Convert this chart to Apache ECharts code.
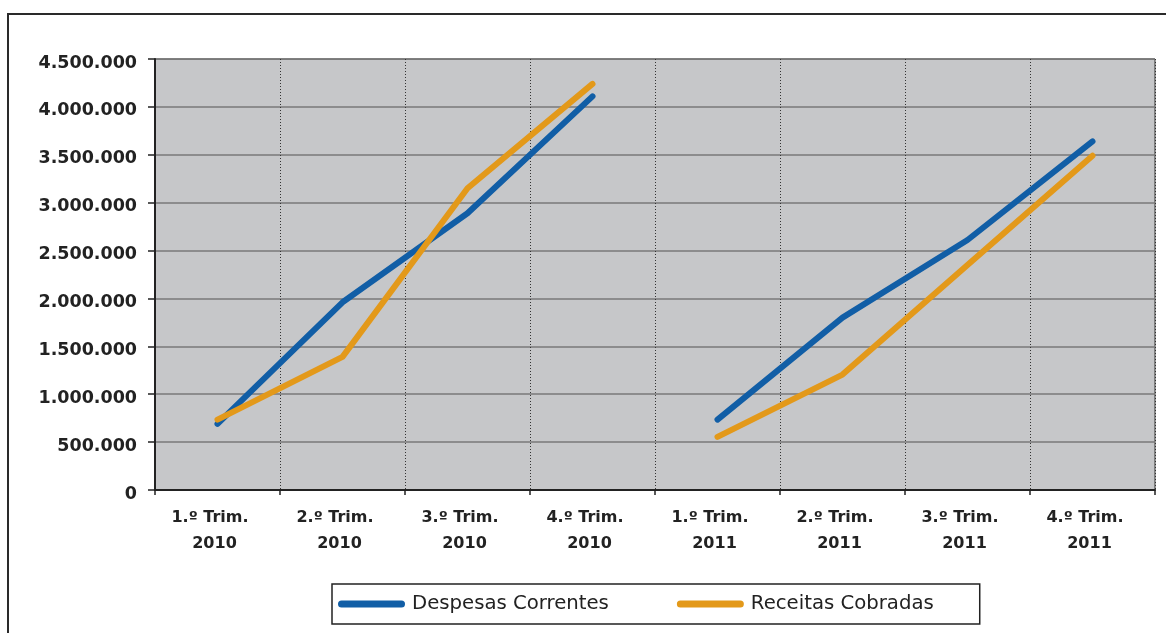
<!DOCTYPE html>
<html>
<head>
<meta charset="utf-8">
<script src="https://cdn.jsdelivr.net/npm/echarts@6/dist/echarts.min.js"></script>
<style>
  html, body { margin: 0; padding: 0; background: #ffffff; }
  #chart { width: 1166px; height: 633px; }
</style>
</head>
<body>
<div id="chart"></div>
<script>
// Quarterly current expenditure vs. collected revenue, 2010-2011
const categories = [
  '1.º Trim.\n2010', '2.º Trim.\n2010', '3.º Trim.\n2010', '4.º Trim.\n2010',
  '1.º Trim.\n2011', '2.º Trim.\n2011', '3.º Trim.\n2011', '4.º Trim.\n2011'
];
const despesasCorrentes = [690000, 1960000, 2890000, 4110000, 735000, 1800000, 2610000, 3640000];
const receitasCobradas  = [735000, 1390000, 3150000, 4240000, 555000, 1205000, 2350000, 3490000];
const yTicks = { min: 0, max: 4500000, interval: 500000 };

const BLUE = '#115ea6';
const ORANGE = '#e3991a';
const FONT = 'DejaVu Sans';

// each year is drawn as its own segment (no link between 4.º Trim. 2010 and 1.º Trim. 2011)
function yearPart(values, first) {
  return values.map((v, i) => (first ? i < 4 : i >= 4) ? v : null);
}

function lineSeries(name, values, color, first, z) {
  return {
    name: name,
    type: 'line',
    data: yearPart(values, first),
    showSymbol: false,
    symbol: 'none',
    connectNulls: false,
    z: z,
    itemStyle: { color: color },
    lineStyle: { color: color, width: 6, cap: 'round', join: 'round' }
  };
}

function fmtThousands(v) {
  return String(v).replace(/\B(?=(\d{3})+(?!\d))/g, '.');
}

function fmtCategory(v) {
  const parts = v.split('\n');
  return '{q|' + parts[0] + '}\n{y|' + parts[1] + '}';
}

const legendIcon = 'path://M3.5,0 H63.5 A3.5,3.5 0 0 1 63.5,7 H3.5 A3.5,3.5 0 0 1 3.5,0 Z';

const catLabelStyle = { fontFamily: FONT, fontSize: 16, fontWeight: 'bold', color: '#222222', lineHeight: 26 };

const chart = echarts.init(document.getElementById('chart'), null, { renderer: 'canvas' });
chart.setOption({
  animation: false,
  backgroundColor: '#ffffff',
  textStyle: { fontFamily: FONT },
  graphic: [{
    type: 'rect',
    shape: { x: 8, y: 14, width: 1200, height: 700 },
    style: { fill: 'none', stroke: '#2a2a2a', lineWidth: 2 },
    silent: true,
    z: 0
  }],
  grid: {
    left: 155, right: 11, top: 59, bottom: 143,
    show: true,
    backgroundColor: '#c6c7c9',
    borderColor: '#333333',
    borderWidth: 1
  },
  legend: {
    left: 332, top: 584,
    orient: 'horizontal',
    padding: [9, 46, 9, 6],
    itemGap: 68,
    itemWidth: 67,
    itemHeight: 7,
    icon: legendIcon,
    borderColor: '#222222',
    borderWidth: 1.5,
    backgroundColor: '#ffffff',
    data: [
      { name: 'Despesas Correntes', itemStyle: { color: BLUE } },
      { name: 'Receitas Cobradas', itemStyle: { color: ORANGE } }
    ],
    textStyle: {
      fontFamily: FONT, fontSize: 19.7, color: '#222222',
      lineHeight: 22, padding: [0, 0, 0, 2]
    }
  },
  xAxis: {
    type: 'category',
    data: categories,
    boundaryGap: true,
    axisLine: { show: true, lineStyle: { color: '#222222', width: 2 } },
    axisTick: { show: true, length: 5, inside: false, lineStyle: { color: '#222222', width: 1.5 } },
    axisLabel: {
      margin: 15, interval: 0,
      formatter: fmtCategory,
      rich: {
        q: Object.assign({ padding: [0, 15, 0, 0] }, catLabelStyle),
        y: Object.assign({ padding: [0, 6, 0, 0] }, catLabelStyle)
      }
    },
    splitLine: { show: true, lineStyle: { color: '#333333', width: 1, type: [1, 2] } }
  },
  yAxis: {
    type: 'value',
    min: yTicks.min, max: yTicks.max, interval: yTicks.interval,
    axisLine: { show: true, lineStyle: { color: '#222222', width: 2 } },
    axisTick: { show: true, length: 7, inside: false, lineStyle: { color: '#222222', width: 1.5 } },
    axisLabel: {
      fontFamily: FONT, fontSize: 17.5, fontWeight: 'bold', color: '#222222',
      margin: 18, lineHeight: 8, padding: [0, 0, 0, 0],
      verticalAlign: 'top', formatter: fmtThousands
    },
    splitLine: { show: true, lineStyle: { color: '#787878', width: 1.5 } }
  },
  series: [
    lineSeries('Despesas Correntes', despesasCorrentes, BLUE, true, 2),
    lineSeries('Despesas Correntes', despesasCorrentes, BLUE, false, 2),
    lineSeries('Receitas Cobradas', receitasCobradas, ORANGE, true, 3),
    lineSeries('Receitas Cobradas', receitasCobradas, ORANGE, false, 3)
  ]
});
</script>
</body>
</html>
